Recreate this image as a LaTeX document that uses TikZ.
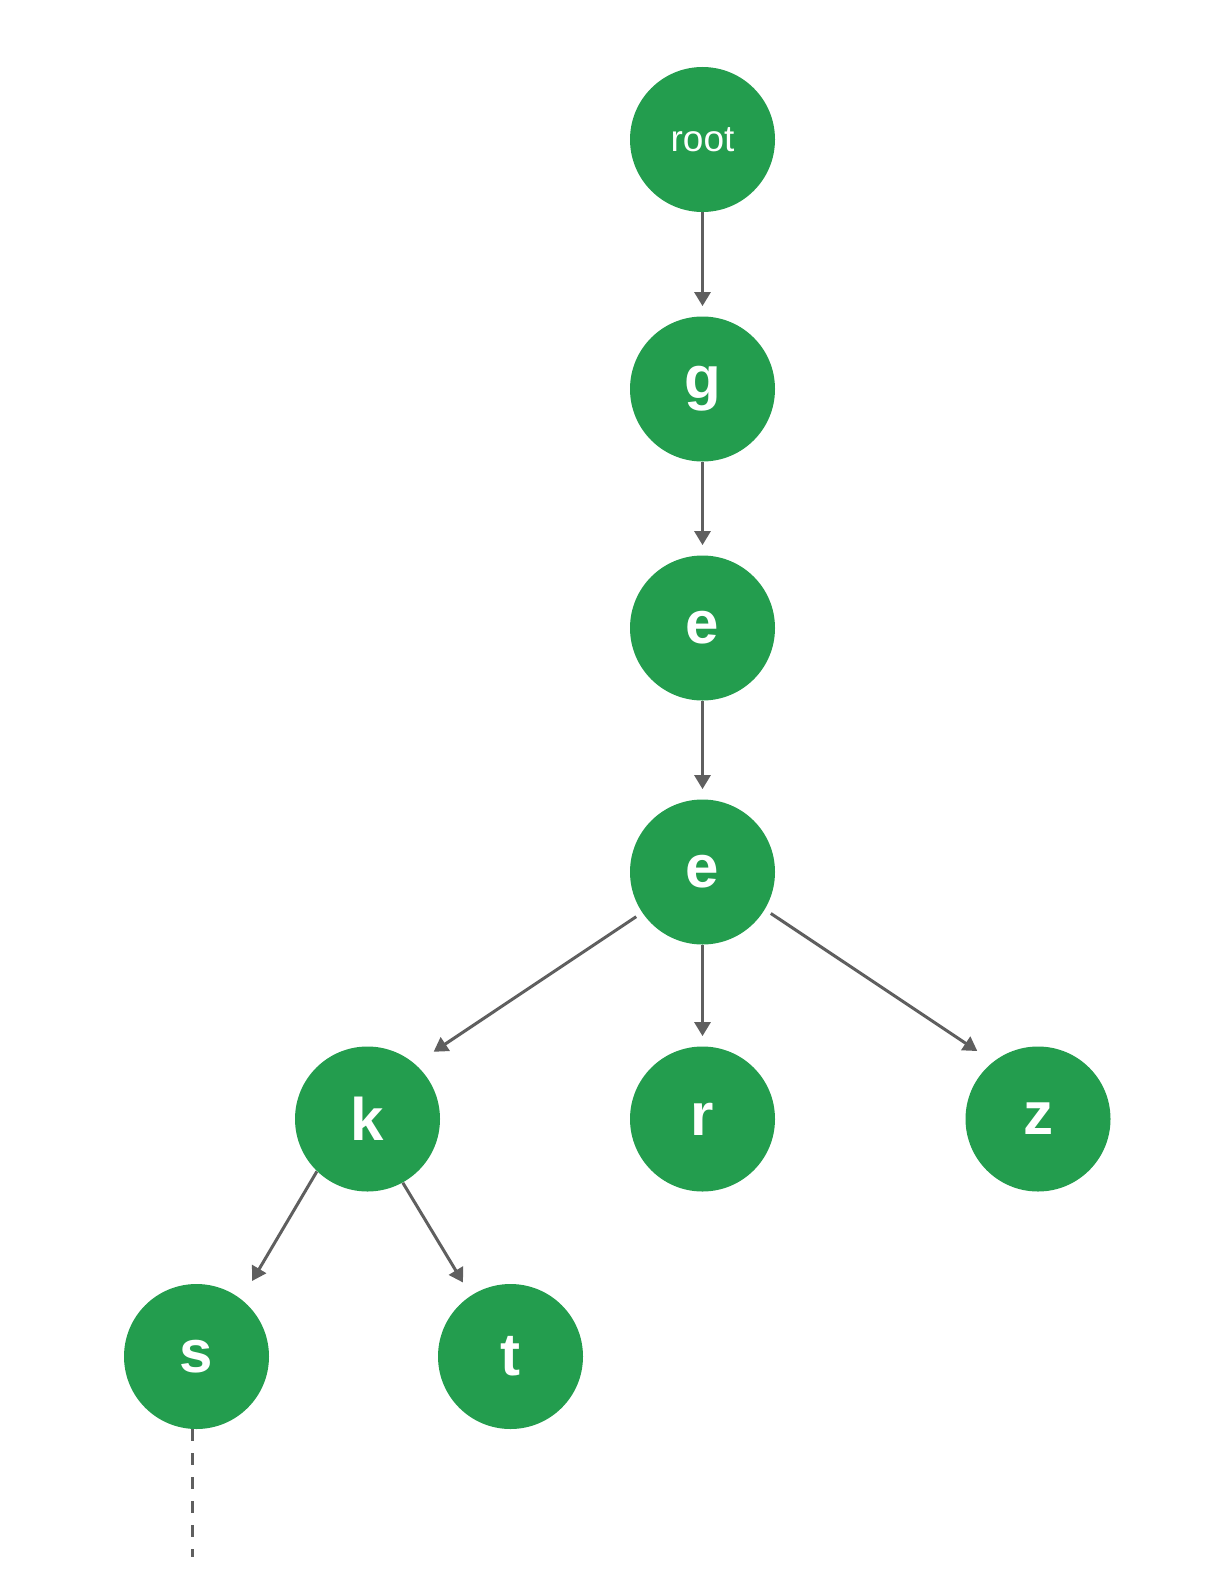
\documentclass[tikz,border=0pt]{standalone}
\usepackage{fontspec}
\setmainfont{Liberation Sans}
\usetikzlibrary{arrows.meta}
\definecolor{triegreen}{RGB}{35,157,78}
\definecolor{edgegray}{RGB}{95,95,95}
\begin{document}
\begin{tikzpicture}[x=0.5pt, y=-0.5pt,
    letter/.style={circle, fill=triegreen, minimum size=72.5pt, inner sep=0pt, text=white, font=\fontsize{30}{30}\selectfont\bfseries},
    rootnode/.style={letter, font=\fontsize{18.5}{18.5}\selectfont},
    edge/.style={draw=edgegray, line width=1.5pt, -{Triangle[length=7pt, width=8pt]}}]
    \useasboundingbox (0,0) rectangle (1215,1594);
    \node[rootnode] (root) at (702.5,139.5) {root};
    \node[letter] (g) at (702.5,389) {g};
    \node[letter] (e1) at (702.5,628) {e};
    \node[letter] (e2) at (702.5,872) {e};
    \node[letter] (k) at (367.5,1119) {k};
    \node[letter] (r) at (702.5,1119) {r};
    \node[letter] (z) at (1038,1119) {z};
    \node[letter] (s) at (196.5,1356.5) {s};
    \node[letter] (t) at (510.5,1356.5) {t};
    \coordinate (tail) at (192.5,1557);
    \draw[edge, shorten >=5pt] (root) -- (g);
    \draw[edge, shorten >=5pt] (g) -- (e1);
    \draw[edge, shorten >=5pt] (e1) -- (e2);
    \draw[edge, shorten >=5pt] (e2) -- (r);
    \draw[edge, shorten <=3.5pt, shorten >=11pt] (e2.214) -- (k.49);
    \draw[edge, shorten <=3.5pt, shorten >=9.5pt] (e2.-31) -- (z.128);
    \draw[edge, shorten >=10.5pt] (k.226) -- (s.52);
    \draw[edge, shorten >=7.5pt] (k.-61) -- (t.123);
    \draw[edgegray, line width=1.5pt, dash pattern=on 6pt off 6pt] (s.south -| tail) -- (tail);
\end{tikzpicture}
\end{document}
